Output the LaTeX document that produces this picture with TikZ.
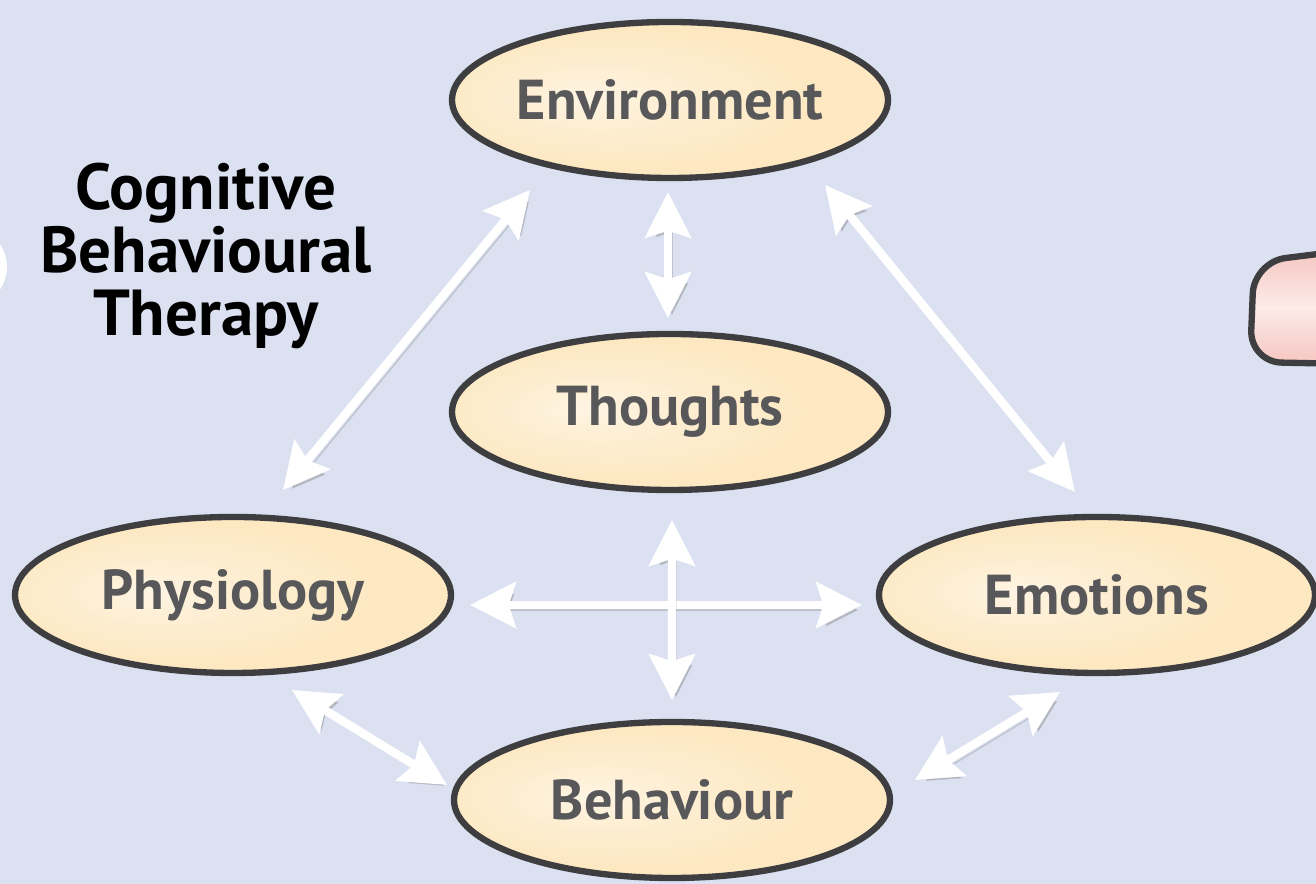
\documentclass[tikz,border=0pt]{standalone}
\usepackage{fontspec}
\setmainfont{PT Sans}
\usetikzlibrary{arrows.meta,shapes.geometric}
\definecolor{bgblue}{RGB}{219,225,241}
\definecolor{cream}{RGB}{253,232,194}
\definecolor{amber}{RGB}{240,180,70}
\definecolor{rim}{RGB}{62,62,64}
\definecolor{txtgray}{RGB}{88,88,90}
\definecolor{pinky}{RGB}{246,198,192}
\pgfdeclareradialshading{bubbleshade}{\pgfpoint{-10bp}{1bp}}{color(0bp)=(cream!45!white); color(10bp)=(cream!75!white); color(22bp)=(cream); color(29bp)=(cream); color(35bp)=(amber); color(50bp)=(amber)}
\tikzset{
  bubble/.style={ellipse,draw=rim,line width=1.8pt,shade,shading=bubbleshade,
    minimum width=4.36cm,minimum height=1.56cm,inner sep=0pt,
    text=txtgray,font=\fontsize{16}{18}\selectfont\bfseries},
  link/.style={<->,draw=white,line width=2.4pt,
    preaction={draw=black!50,opacity=.3,transform canvas={shift={(0.04,-0.05)}}}},
}
\begin{document}
\begin{tikzpicture}[>={Stealth[length=13pt,width=13pt,inset=2pt]},line join=round]
            \fill[bgblue] (0,0) rectangle (13.16,8.84);
            \useasboundingbox (0,0) rectangle (13.16,8.84);
            % bits of the neighbouring panels
            \begin{scope}
              \clip (0,0) rectangle (13.16,8.84);
              \fill[white] (-0.25,6.17) ellipse (0.32 and 0.36);
              \draw[rim,line width=1.8pt,top color=pinky,bottom color=pinky,middle color=pinky!35!white,rounded corners=9pt]
              (13.5,6.34) -- (12.54,6.22) -- (12.50,5.22) -- (13.5,5.20);
            \end{scope}
            \node[align=center,font=\fontsize{18.5}{17.9}\selectfont\bfseries] (title) at (2.06,6.28) {Cognitive\\Behavioural\\Therapy};
            \node[bubble] (env) at (6.70,7.84) {Environment};
            \node[bubble] (tho) at (6.70,4.72) {Thoughts};
            \node[bubble] (phy) at (2.33,2.89) {Physiology};
            \node[bubble] (emo) at (10.97,2.89) {Emotions};
            \node[bubble] (beh) at (6.72,0.84) {Behaviour};
            % two-way links
            \draw[link] ([shift={(-1.40,-0.90)}]env.center) -- ([shift={(0.50,1.05)}]phy.center);
            \draw[link] ([shift={(1.55,-0.85)}]env.center) -- ([shift={(-0.22,1.03)}]emo.center);
            \draw[link] ([shift={(-0.02,-0.92)}]env.center) -- ([shift={(-0.02,0.94)}]tho.center);
            \draw[link] ([shift={(2.37,-0.10)}]phy.center) -- ([shift={(-2.35,-0.10)}]emo.center);
            \draw[link] ([shift={(0.02,-1.08)}]tho.center) -- ([shift={(0,1.00)}]beh.center);
            \draw[link] ([shift={(0.59,-0.95)}]phy.center) -- ([shift={(-2.25,0.15)}]beh.center);
            \draw[link] ([shift={(2.43,0.20)}]beh.center) -- ([shift={(-0.37,-0.97)}]emo.center);
\end{tikzpicture}
\end{document}
